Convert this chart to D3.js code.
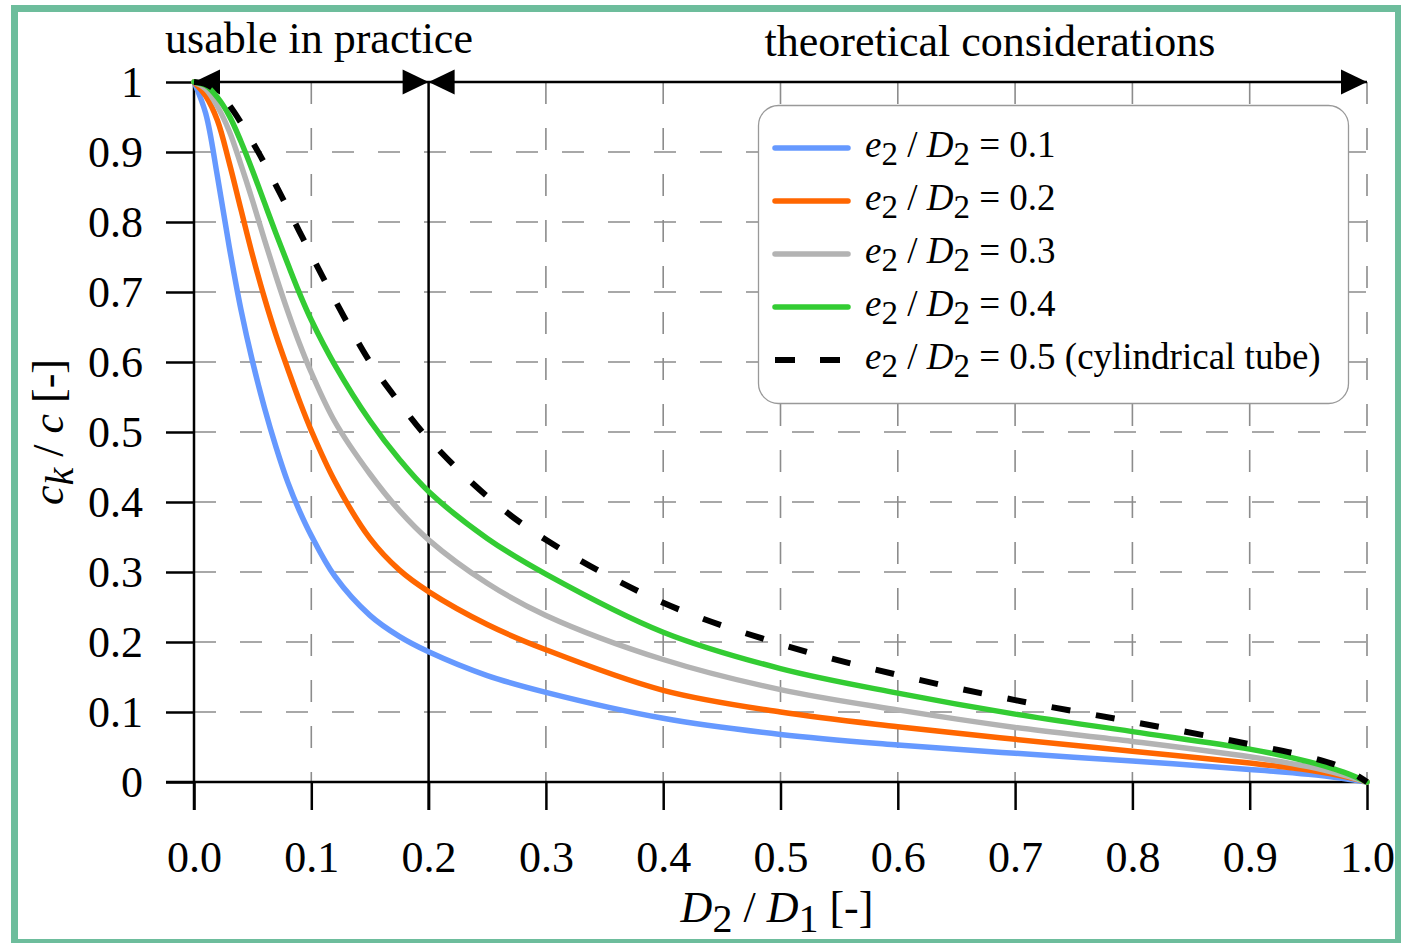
<!DOCTYPE html>
<html>
<head>
<meta charset="utf-8">
<script src="https://cdn.jsdelivr.net/npm/d3@7"></script>
<style>
  body { margin: 0; background: #fff; }
  text { font-family: "Liberation Serif", "Times New Roman", serif; fill: #000; }
</style>
</head>
<body>
<div id="chart"></div>
<script>
var ratioD = [0, 0.01, 0.02, 0.03, 0.04, 0.05, 0.06, 0.07, 0.08, 0.09, 0.1, 0.12, 0.15, 0.175, 0.2, 0.25, 0.3, 0.4, 0.5, 0.6, 0.7, 0.8, 0.9, 0.95, 0.98, 1.0];

// ck / c for each e2 / D2
var ck_e01 = [1, 0.955, 0.865, 0.765, 0.675, 0.6, 0.535, 0.478, 0.428, 0.387, 0.352, 0.294, 0.238, 0.208, 0.186, 0.152, 0.128, 0.091, 0.068, 0.053, 0.041, 0.030, 0.018, 0.011, 0.005, 0];
var ck_e02 = [1, 0.98, 0.945, 0.885, 0.818, 0.752, 0.692, 0.638, 0.59, 0.544, 0.502, 0.43, 0.348, 0.303, 0.272, 0.225, 0.189, 0.131, 0.100, 0.079, 0.061, 0.044, 0.027, 0.017, 0.008, 0];
var ck_e03 = [1, 0.99, 0.965, 0.93, 0.882, 0.83, 0.775, 0.722, 0.672, 0.626, 0.585, 0.515, 0.44, 0.388, 0.346, 0.284, 0.238, 0.175, 0.132, 0.103, 0.078, 0.058, 0.036, 0.022, 0.01, 0];
var ck_e04 = [1, 0.995, 0.978, 0.952, 0.915, 0.873, 0.828, 0.783, 0.74, 0.698, 0.66, 0.596, 0.516, 0.461, 0.415, 0.348, 0.297, 0.214, 0.162, 0.127, 0.097, 0.072, 0.047, 0.029, 0.014, 0];
var ck_e05 = [1, 0.997, 0.986, 0.967, 0.942, 0.914, 0.884, 0.852, 0.819, 0.786, 0.753, 0.689, 0.6, 0.542, 0.49, 0.408, 0.346, 0.256, 0.197, 0.153, 0.117, 0.086, 0.054, 0.036, 0.02, 0];

var seriesNames = ["0.1", "0.2", "0.3", "0.4", "0.5 (cylindrical tube)"];

var xTicks = [0, 0.1, 0.2, 0.3, 0.4, 0.5, 0.6, 0.7, 0.8, 0.9, 1.0];
var xTickLabels = ["0.0", "0.1", "0.2", "0.3", "0.4", "0.5", "0.6", "0.7", "0.8", "0.9", "1.0"];
var yTicks = [0, 0.1, 0.2, 0.3, 0.4, 0.5, 0.6, 0.7, 0.8, 0.9, 1];
var yTickLabels = ["0", "0.1", "0.2", "0.3", "0.4", "0.5", "0.6", "0.7", "0.8", "0.9", "1"];

var rangeLabels = ["usable in practice", "theoretical considerations"];

var color = d3.scaleOrdinal().domain(seriesNames)
    .range(["#6699ff", "#ff6600", "#b3b3b3", "#33cc33", "#000000"]);

var width = 1401, height = 943;

var svg = d3.select("#chart").append("svg")
    .attr("width", width)
    .attr("height", height);

var x = d3.scaleLinear().domain([0, 1]).range([194, 1367]);
var y = d3.scaleLinear().domain([0, 1]).range([782, 82]);

// green frame
svg.append("rect")
    .attr("x", 14.5).attr("y", 8.5)
    .attr("width", 1384).attr("height", 934)
    .attr("fill", "none")
    .attr("stroke", "#6dbd9c")
    .attr("stroke-width", 7);

// dashed grid
var grid = svg.append("g").attr("class", "grid")
    .attr("stroke", "#8c8c8c")
    .attr("stroke-width", 1.6)
    .attr("stroke-dasharray", "22,24");

grid.selectAll(".vgrid")
    .data(xTicks.filter(d => d != 0 && d != 0.2))
    .enter().append("line")
    .attr("x1", d => x(d)).attr("x2", d => x(d))
    .attr("y1", y(1)).attr("y2", y(0));

grid.selectAll(".hgrid")
    .data(yTicks.filter(d => d > 0 && d < 1))
    .enter().append("line")
    .attr("x1", x(0)).attr("x2", x(1))
    .attr("y1", d => y(d)).attr("y2", d => y(d));

// axes
var yAxis = d3.axisLeft(y)
    .tickValues(yTicks)
    .tickFormat((d, i) => yTickLabels[i])
    .tickSize(28)
    .tickPadding(23);

var xAxis = d3.axisBottom(x)
    .tickValues(xTicks)
    .tickFormat((d, i) => xTickLabels[i])
    .tickSize(28)
    .tickPadding(31);

svg.append("g")
    .attr("class", "y axis")
    .attr("transform", "translate(" + x(0) + ",0)")
    .call(yAxis);

svg.append("g")
    .attr("class", "x axis")
    .attr("transform", "translate(0," + y(0) + ")")
    .call(xAxis);

d3.selectAll(".axis .domain").remove();
d3.selectAll(".axis line")
    .style("stroke", "#000")
    .style("stroke-width", 2.5);
d3.selectAll(".axis text")
    .style("font-size", "44px")
    .style("font-family", "'Liberation Serif', serif")
    .style("fill", "#000");

var frameLines = svg.append("g").attr("stroke", "#000").attr("stroke-width", 2.5);
// y axis, going down to the 0.0 tick
frameLines.append("line")
    .attr("x1", x(0)).attr("x2", x(0))
    .attr("y1", y(1)).attr("y2", y(0) + 28);
// x axis
frameLines.append("line")
    .attr("x1", x(0) - 28).attr("x2", x(1))
    .attr("y1", y(0)).attr("y2", y(0));
// split line at 0.2
frameLines.append("line")
    .attr("x1", x(0.2)).attr("x2", x(0.2))
    .attr("y1", y(1)).attr("y2", y(0) + 28);
// top range line
frameLines.append("line")
    .attr("x1", x(0)).attr("x2", x(1))
    .attr("y1", y(1)).attr("y2", y(1));

// arrowheads on the range line, dir 1 = pointing right
function arrow(tip, dir) {
    var ty = y(1);
    var bx = tip - dir * 26;
    return "M" + tip + "," + ty + "L" + bx + "," + (ty - 12.5) + "L" + bx + "," + (ty + 12.5) + "Z";
}
var arrows = [[x(0), -1], [x(0.2), 1], [x(0.2), -1], [x(1), 1]];
svg.append("g").selectAll("path")
    .data(arrows)
    .enter().append("path")
    .attr("d", d => arrow(d[0], d[1]))
    .attr("fill", "#000");

svg.append("text")
    .attr("x", 319).attr("y", 53)
    .attr("text-anchor", "middle")
    .style("font-size", "44px")
    .text(rangeLabels[0]);

svg.append("text")
    .attr("x", 990).attr("y", 56)
    .attr("text-anchor", "middle")
    .style("font-size", "44px")
    .text(rangeLabels[1]);

// curves
var series = [ck_e01, ck_e02, ck_e03, ck_e04, ck_e05].map((vals, i) => {
    return {
        name: seriesNames[i],
        points: ratioD.map((r, j) => [r, vals[j]])
    };
});

var line = d3.line()
    .x(d => x(d[0]))
    .y(d => y(d[1]))
    .curve(d3.curveCatmullRom.alpha(0.5));

svg.append("g").selectAll("path")
    .data(series)
    .enter().append("path")
    .attr("d", d => line(d.points))
    .attr("fill", "none")
    .attr("stroke", d => color(d.name))
    .attr("stroke-width", (d, i) => i == 4 ? 6 : 5.5)
    .attr("stroke-linecap", (d, i) => i == 4 ? "butt" : "round")
    .attr("stroke-dasharray", (d, i) => i == 4 ? "19,26" : null);

// text with italic letters and subscripts
function richText(sel, parts, size) {
    var sub = Math.round(size * 0.9);
    var shift = Math.round(size * 0.22);
    var down = false;
    parts.forEach(p => {
        var t = sel.append("tspan").text(p.t);
        if (p.i) t.style("font-style", "italic");
        if (p.sub) {
            t.style("font-size", sub + "px");
            if (!down) { t.attr("dy", shift); down = true; }
        } else {
            t.style("font-size", size + "px");
            if (down) { t.attr("dy", -shift); down = false; }
        }
    });
}

// legend
var legend = svg.append("g").attr("class", "legendbox");
legend.append("rect")
    .attr("x", 758.5).attr("y", 105.5)
    .attr("width", 590).attr("height", 298)
    .attr("rx", 20).attr("ry", 20)
    .attr("fill", "#fff")
    .attr("stroke", "#999")
    .attr("stroke-width", 1.3);

var items = legend.selectAll(".legend")
    .data(series)
    .enter().append("g")
    .attr("class", "legend")
    .attr("transform", (d, i) => "translate(0," + (148 + 53 * i) + ")");

items.append("line")
    .attr("x1", 775).attr("x2", 848)
    .attr("stroke", d => color(d.name))
    .attr("stroke-width", (d, i) => i == 4 ? 6 : 5.5)
    .attr("stroke-linecap", (d, i) => i == 4 ? "butt" : "round")
    .attr("stroke-dasharray", (d, i) => i == 4 ? "20,25" : null);

items.append("text")
    .attr("x", 865).attr("y", 9)
    .each(function (d) {
        richText(d3.select(this), [
            { t: "e", i: true }, { t: "2", sub: true },
            { t: " / " }, { t: "D", i: true }, { t: "2", sub: true },
            { t: " = " + d.name }
        ], 37);
    });

// axis titles
var xTitle = svg.append("text")
    .attr("x", 777).attr("y", 922)
    .attr("text-anchor", "middle");
richText(xTitle, [
    { t: "D", i: true }, { t: "2", sub: true }, { t: " / " },
    { t: "D", i: true }, { t: "1", sub: true }, { t: " [-]" }
], 44);

var yTitle = svg.append("text")
    .attr("transform", "translate(63,432) rotate(-90)")
    .attr("text-anchor", "middle");
richText(yTitle, [
    { t: "c", i: true }, { t: "k", i: true, sub: true }, { t: " / " },
    { t: "c", i: true }, { t: " [-]" }
], 44);
</script>
</body>
</html>
